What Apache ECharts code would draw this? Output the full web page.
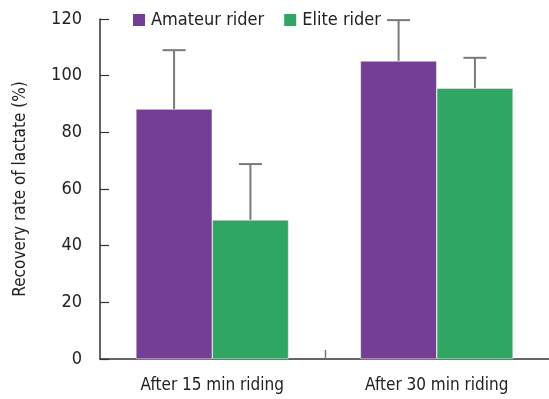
<!DOCTYPE html>
<html><head><meta charset="utf-8">
<script src="https://cdn.jsdelivr.net/npm/echarts@6/dist/echarts.min.js"></script>
<style>html,body{margin:0;padding:0;background:#fff}#c{width:549px;height:399px}</style>
</head><body><div id="c"></div>
<script>
var categories = ['After 15 min riding', 'After 30 min riding'];
var amateurMean = [88.2, 105.2];
var amateurErr = [20.8, 14.4];
var eliteMean = [49.1, 95.6];
var eliteErr = [19.7, 10.7];
var yTicks = [0, 20, 40, 60, 80, 100, 120];

var FONT = '"DejaVu Sans Condensed","Liberation Sans Narrow",Roboto,sans-serif';
var PURPLE = '#743E96', GREEN = '#30A665';
var CAT_GAP = 0.32;

function errSeries(mean, err, side) {
  return {
    type: 'custom',
    z: 1,
    silent: true,
    data: mean.map(function (m, i) { return [i, m, m + err[i]]; }),
    renderItem: function (params, api) {
      var band = api.size([1, 0])[0];
      var bw = band * (1 - CAT_GAP) / 2;
      var p0 = api.coord([api.value(0), api.value(1)]);
      var p1 = api.coord([api.value(0), api.value(2)]);
      var x = p0[0] + side * bw / 2;
      var cap = 11.5;
      var st = { stroke: '#7a7a7a', lineWidth: 2 };
      return { type: 'group', children: [
        { type: 'line', shape: { x1: x, y1: p0[1], x2: x, y2: p1[1] }, style: st },
        { type: 'line', shape: { x1: x - cap, y1: p1[1], x2: x + cap, y2: p1[1] }, style: st }
      ]};
    }
  };
}

// category-boundary tick between the two groups (position from the axis scale)
var boundarySeries = {
  type: 'custom', z: 3, silent: true,
  data: [[0, 0]],
  renderItem: function (params, api) {
    var band = api.size([1, 0])[0];
    var p = api.coord([api.value(0), api.value(1)]);
    var x = Math.round(p[0] + band / 2) + 0.5;
    return { type: 'line', shape: { x1: x, y1: p[1], x2: x, y2: p[1] - 9 },
      style: { stroke: '#777', lineWidth: 1.5 } };
  }
};

var chart = echarts.init(document.getElementById('c'));
chart.setOption({
  animation: false,
  textStyle: { fontFamily: FONT },
  legend: {
    top: 6, left: 126, itemGap: 18, itemWidth: 14, itemHeight: 14,
    icon: 'rect',
    textStyle: { fontSize: 18, color: '#222', fontFamily: FONT },
    data: ['Amateur rider', 'Elite rider']
  },
  grid: { left: 100, top: 19, width: 454, bottom: 40, containLabel: false },
  xAxis: {
    type: 'category', data: categories,
    axisLine: { lineStyle: { color: '#333', width: 1.5 } },
    axisTick: { show: false },
    axisLabel: { fontSize: 17, color: '#222', margin: 18, fontFamily: FONT }
  },
  yAxis: {
    type: 'value', min: 0, max: 120, interval: 20,
    name: 'Recovery rate of lactate (%)', nameLocation: 'middle', nameGap: 71, nameRotate: 90,
    nameTextStyle: { fontSize: 17, color: '#222', fontFamily: FONT },
    axisLine: { show: true, lineStyle: { color: '#333', width: 1.5 } },
    axisTick: { show: true, inside: true, length: 9, lineStyle: { color: '#333', width: 1.2 } },
    splitLine: { show: false },
    axisLabel: { fontSize: 18, color: '#222', margin: 18, fontFamily: FONT,
      formatter: function (v) { return yTicks.indexOf(v) >= 0 ? String(v) : ''; } }
  },
  series: [
    { name: 'Amateur rider', type: 'bar', data: amateurMean, barGap: '0%', barCategoryGap: '32%',
      itemStyle: { color: PURPLE, borderColor: '#fff', borderWidth: 0.5 }, z: 2 },
    { name: 'Elite rider', type: 'bar', data: eliteMean, barGap: '0%', barCategoryGap: '32%',
      itemStyle: { color: GREEN, borderColor: '#fff', borderWidth: 0.5 }, z: 2 },
    errSeries(amateurMean, amateurErr, -1),
    errSeries(eliteMean, eliteErr, 1),
    boundarySeries
  ]
});
</script></body></html>
